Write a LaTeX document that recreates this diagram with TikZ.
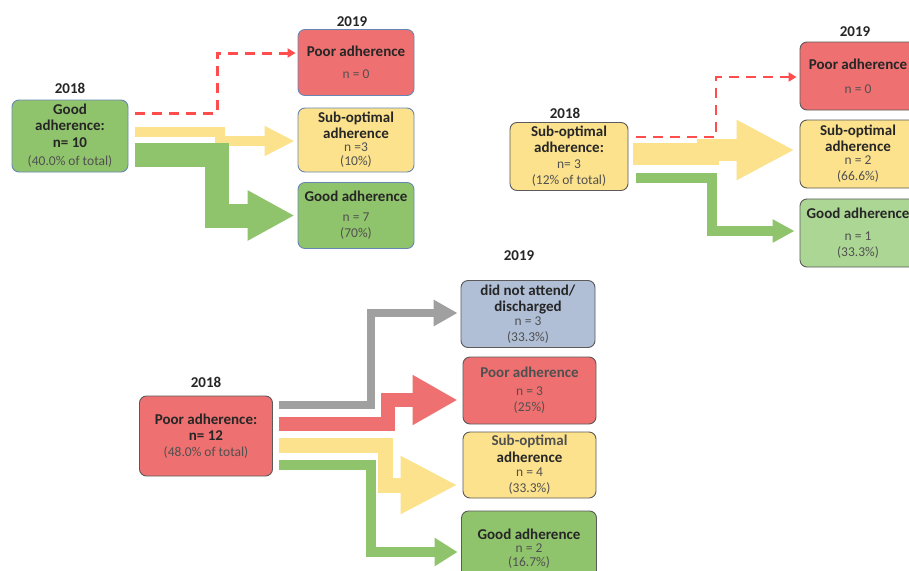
\documentclass[tikz,border=0pt]{standalone}
\usepackage{fontspec}
\setmainfont{Carlito}
\usetikzlibrary{arrows.meta}

\definecolor{poorred}{RGB}{239,112,112}
\definecolor{subyellow}{RGB}{252,226,140}
\definecolor{goodgreen}{RGB}{144,196,108}
\definecolor{lightgreen}{RGB}{172,214,148}
\definecolor{dnablue}{RGB}{176,190,214}
\definecolor{flowgray}{RGB}{160,160,160}
\definecolor{bluerim}{RGB}{104,134,180}
\definecolor{grayrim}{RGB}{90,90,90}
\definecolor{softtext}{RGB}{80,80,80}

\tikzset{
  box/.style={draw=grayrim, line width=0.9pt, rounded corners=7pt, align=center,
    inner sep=0pt, minimum width=116pt, minimum height=66pt,
    font=\fontsize{15}{16}\selectfont, text=black!85},
  yearlabel/.style={font=\bfseries\fontsize{15}{16}\selectfont, text=black!85},
  flow/.style n args={3}{line width=#1, -{Triangle[length=#2, width=#3]}},
  none/.style={red!70!white, line width=#1, dash pattern=on 10pt off 7pt,
    -{Triangle[length=8pt, width=9pt]}},
}
\newcommand{\lo}[1]{{\color{softtext}\mdseries\fontsize{13.5}{16}\selectfont #1}}

\begin{document}
\begin{tikzpicture}[x=1pt, y=-1pt]
  \clip (0,0) rectangle (909,570);
  \fill[white] (0,0) rectangle (909,570);

  % good adherence in 2018
  \node[yearlabel] (y18a) at (70,88) {2018};
  \node[box, draw=bluerim, fill=goodgreen, minimum height=72pt] (g18) at (70,136)
    {\textbf{Good}\\\textbf{adherence:}\\[1pt]\textbf{n= 10}\\[2pt]\lo{(40.0\% of total)}};
  \node[yearlabel] (y19a) at (352,22) {2019};
  \node[box, draw=bluerim, fill=poorred] (p19a) at (356,62.5)
    {\textbf{Poor adherence}\\[6pt]\lo{n = 0}};
  \node[box, draw=bluerim, fill=subyellow, minimum height=64pt] (s19a) at (356,140)
    {\textbf{Sub-optimal}\\[0pt]\textbf{adherence}\\[-3pt]\lo{n =3}\\[-2pt]\lo{(10\%)}};
  \node[box, draw=bluerim, fill=goodgreen] (g19a) at (356,215.5)
    {\textbf{Good adherence}\\[4pt]\lo{n = 7}\\[0pt]\lo{(70\%)}};

  \draw[none=3pt] ([xshift=7pt, yshift=23pt]g18.east) -- ++(82,0)
    |- ([xshift=-2pt, yshift=9.5pt]p19a.west);
  \draw[flow={10pt}{30pt}{28pt}, subyellow] ([xshift=7pt, yshift=4pt]g18.east) -- ++(85,0)
    |- ([xshift=-3pt, yshift=-1pt]s19a.west);
  \draw[flow={24pt}{47pt}{47pt}, goodgreen] ([xshift=7pt, yshift=-19pt]g18.east) -- ++(82,0)
    |- ([xshift=-3pt]g19a.west);

  % sub-optimal adherence in 2018
  \node[yearlabel] (y18b) at (565,113) {2018};
  \node[box, fill=subyellow, minimum width=118pt, minimum height=68pt] (s18) at (569,156.5)
    {\textbf{Sub-optimal}\\[0pt]\textbf{adherence:}\\[0pt]\lo{n= 3}\\[0pt]\lo{(12\% of total)}};
  \node[yearlabel] (y19b) at (855,32) {2019};
  \node[box, fill=poorred, minimum height=68pt] (p19b) at (858,76)
    {\textbf{Poor adherence}\\[8pt]\lo{n = 0}};
  \node[box, fill=subyellow, minimum height=68pt] (s19b) at (858,154)
    {\textbf{Sub-optimal}\\[0pt]\textbf{adherence}\\[-3pt]\lo{n = 2}\\[0pt]\lo{(66.6\%)}};
  \node[box, fill=lightgreen, minimum height=68pt] (g19b) at (858,233)
    {\textbf{Good adherence}\\[6pt]\lo{n = 1}\\\lo{(33.3\%)}};

  \draw[none=2pt] ([xshift=8pt, yshift=19.5pt]s18.east) -- ++(80,0)
    |- ([xshift=-3pt, yshift=-1pt]p19b.west);
  \draw[flow={22pt}{58pt}{56pt}, subyellow] ([xshift=5pt, yshift=2.5pt]s18.east) -- ++(75,0)
    |- ([xshift=-5pt, yshift=4pt]s19b.west);
  \draw[flow={10pt}{22pt}{22pt}, goodgreen] ([xshift=8pt, yshift=-21.5pt]s18.east) -- ++(76,0)
    |- ([xshift=-5pt, yshift=2pt]g19b.west);

  % poor adherence in 2018
  \node[yearlabel] (y18c) at (206,382) {2018};
  \node[box, fill=poorred, minimum width=133pt, minimum height=80pt] (p18) at (206,436)
    {\textbf{Poor adherence:}\\[0pt]\textbf{n= 12}\\[0pt]\lo{(48.0\% of total)}};
  \node[yearlabel] (y19c) at (519,256) {2019};
  \node[box, fill=dnablue, minimum width=134pt, minimum height=67pt] (d19) at (528,314)
    {\textbf{did not attend/}\\[0pt]\textbf{discharged}\\[-2pt]\lo{n = 3}\\[0pt]\lo{(33.3\%)}};
  \node[box, fill=poorred, minimum width=133pt, minimum height=67pt] (p19c) at (529.5,390.5)
    {\textbf{\color{softtext}Poor adherence}\\[2pt]\lo{n = 3}\\[0pt]\lo{(25\%)}};
  \node[box, fill=subyellow, minimum width=133pt, minimum height=66pt] (s19c) at (529.5,465)
    {\textbf{\color{softtext}Sub-optimal}\\[1pt]\textbf{adherence}\\[-2pt]\lo{n = 4}\\[0pt]\lo{(33.3\%)}};
  \node[box, fill=goodgreen, minimum width=135pt, minimum height=68pt] (g19c) at (529,545)
    {\\[2pt]\textbf{Good adherence}\\[-3pt]\lo{n = 2}\\[-2pt]\lo{(16.7\%)}};

  \draw[flow={8pt}{24pt}{25pt}, flowgray] ([xshift=6pt, yshift=31pt]p18.east) -- ++(92,0)
    |- ([xshift=-3pt, yshift=1pt]d19.west);
  \draw[flow={14pt}{45pt}{47pt}, poorred] ([xshift=6pt, yshift=12pt]p18.east) -- ++(109,0)
    |- ([xshift=-5pt, yshift=-9.5pt]p19c.west);
  \draw[flow={15pt}{57pt}{54pt}, subyellow] ([xshift=6pt, yshift=-9pt]p18.east) -- ++(107,0)
    |- ([xshift=-5pt, yshift=-20pt]s19c.west);
  \draw[flow={10pt}{23pt}{27pt}, goodgreen] ([xshift=6pt, yshift=-29pt]p18.east) -- ++(92,0)
    |- ([xshift=-3.5pt, yshift=-7pt]g19c.west);
\end{tikzpicture}
\end{document}
